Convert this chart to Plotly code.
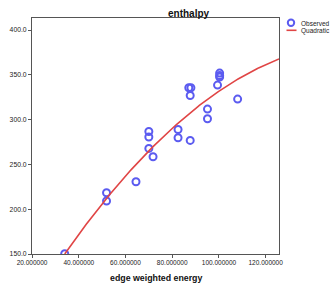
import plotly.graph_objects as go
import numpy as np

# Observed data (edge weighted energy vs enthalpy)
energy = [34.0, 51.9, 51.9, 64.5, 70.0, 70.0, 70.0, 71.8, 82.5, 82.5, 87.7,
          87.1, 88.0, 87.7, 95.1, 95.1, 99.4, 100.3, 100.3, 100.3, 108.0]
enthalpy = [150.3, 209.2, 218.4, 230.7, 267.9, 280.6, 286.8, 258.6, 279.8, 289.0, 276.8,
            335.6, 335.6, 327.0, 311.8, 301.0, 338.6, 347.5, 349.3, 352.0, 323.0]

# Quadratic fit coefficients
quad_coef = [6.14, 4.733, -0.01476]
curve_range = [34.0, 125.7]

x_ticks = [20, 40, 60, 80, 100, 120]
y_ticks = [150, 200, 250, 300, 350, 400]
legend_names = ["Observed", "Quadratic"]

BLUE = "#5b5bf0"
RED = "#e04545"
FONT = "Liberation Sans, Arial, sans-serif"

cx = np.linspace(curve_range[0], curve_range[1], 200)
cy = quad_coef[0] + quad_coef[1] * cx + quad_coef[2] * cx ** 2

fig = go.Figure()
fig.add_trace(go.Scatter(
    x=energy, y=enthalpy, mode="markers", name=legend_names[0],
    marker=dict(symbol="circle-open", size=7, color=BLUE, line=dict(width=2, color=BLUE)),
))
fig.add_trace(go.Scatter(
    x=cx, y=cy, mode="lines", name=legend_names[1],
    line=dict(color=RED, width=1.6),
))

axis_common = dict(
    showline=True, linecolor="#555555", linewidth=1, mirror=True,
    ticks="outside", ticklen=3, tickcolor="#555555", tickwidth=1,
    showgrid=False, zeroline=False, tickangle=0, automargin=False,
)

W, H = 333, 288
L, R, T, B = 32, 54, 18, 34
pw, ph = W - L - R, H - T - B


def px(x):
    return (x - L) / pw


def py(y):
    return (H - B - y) / ph


fig.update_layout(
    width=W, height=H,
    margin=dict(l=L, r=R, t=T, b=B, pad=0),
    paper_bgcolor="white", plot_bgcolor="white",
    showlegend=False,
    xaxis=dict(range=[20, 125.7], tickvals=x_ticks, tickformat=".6f",
               tickfont=dict(family=FONT, size=6.5, color="#222222"),
               ticklabelstandoff=-1, **axis_common),
    yaxis=dict(range=[150, 413.5], tickvals=y_ticks, tickformat=".1f",
               tickfont=dict(family=FONT, size=6.8, color="#222222"),
               **axis_common),
)

fig.add_annotation(text="<b>enthalpy</b>", x=px(189), y=py(13.3), xref="paper", yref="paper",
                   showarrow=False, xanchor="center", yanchor="middle",
                   font=dict(family=FONT, size=10, color="#111111"))
fig.add_annotation(text="<b>edge weighted energy</b>", x=0.5, y=py(277.5),
                   xref="paper", yref="paper", showarrow=False, xanchor="center", yanchor="middle",
                   font=dict(family=FONT, size=8.8, color="#111111"))

# legend (drawn manually to match compact SPSS style)
fig.add_shape(type="circle", xref="paper", yref="paper",
              x0=px(287.8), x1=px(294.2), y0=py(19.5), y1=py(25.9),
              line=dict(color=BLUE, width=2))
fig.add_shape(type="line", xref="paper", yref="paper",
              x0=px(286.5), x1=px(296.5), y0=py(30.3), y1=py(30.3),
              line=dict(color=RED, width=1.6))
fig.add_annotation(text=legend_names[0], x=px(298.5), y=py(23), xref="paper", yref="paper",
                   showarrow=False, xanchor="left", yanchor="middle",
                   font=dict(family=FONT, size=6.5, color="#222222"))
fig.add_annotation(text=legend_names[1], x=px(298.5), y=py(30.7), xref="paper", yref="paper",
                   showarrow=False, xanchor="left", yanchor="middle",
                   font=dict(family=FONT, size=6.5, color="#222222"))

# remove the default 8px page margin so the figure fills the window exactly
fig.write_html("out.html", config={"displayModeBar": False},
               post_script="document.body.style.margin='0px';")
